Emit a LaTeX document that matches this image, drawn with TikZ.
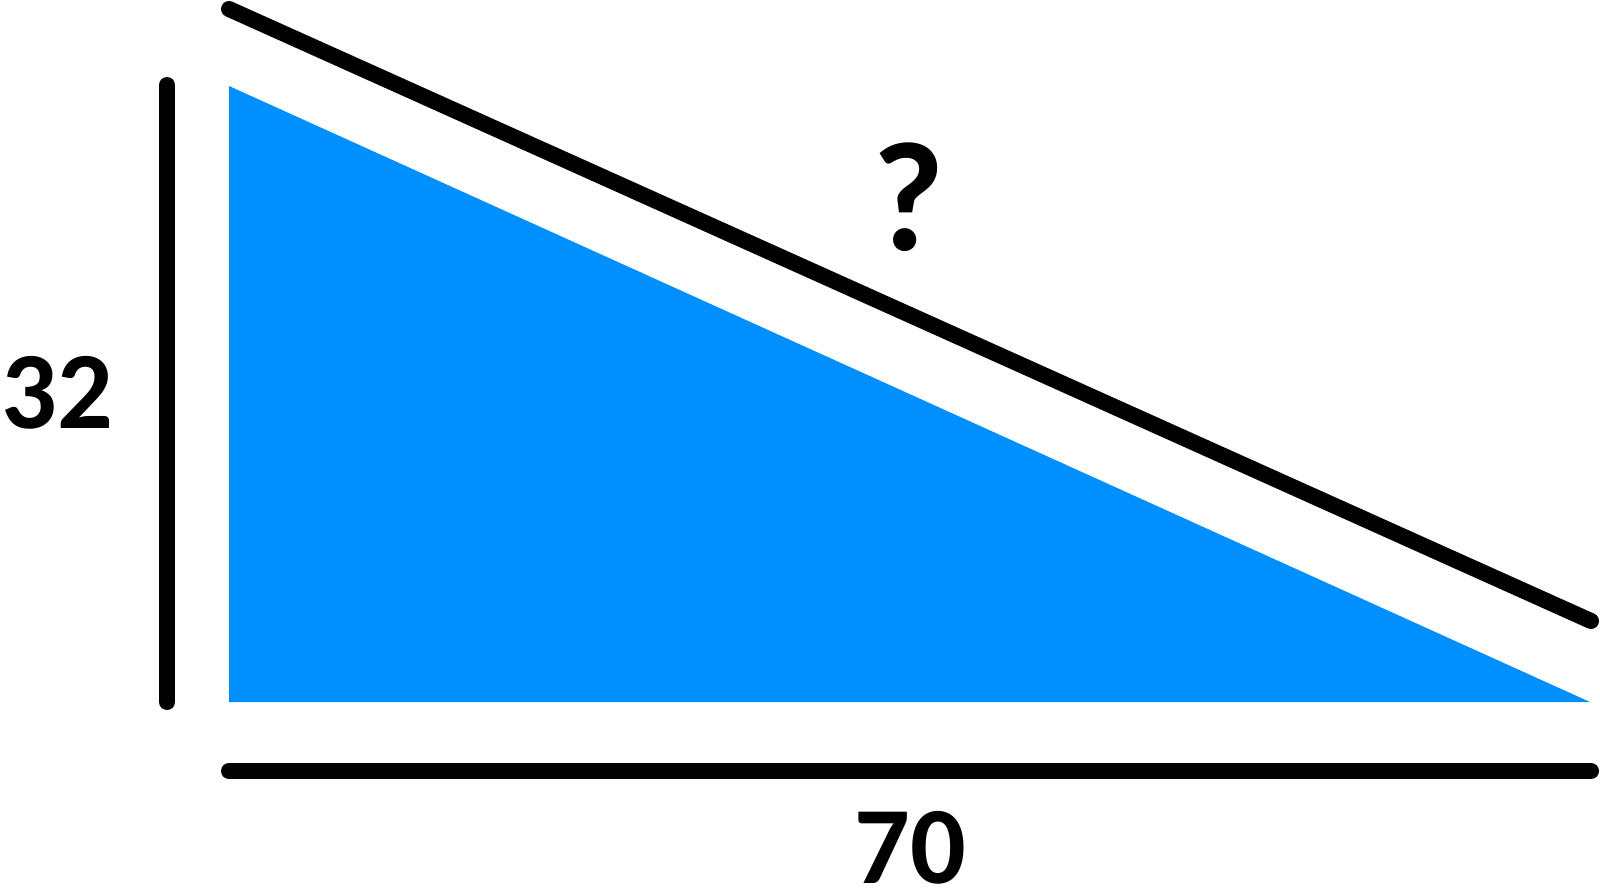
\documentclass[tikz,border=0pt]{standalone}
\usepackage{fontspec}
\setmainfont{Carlito}
\usepackage{tikz}
\usetikzlibrary{calc,positioning}
\definecolor{triblue}{RGB}{0,143,255}

\begin{document}
\begin{tikzpicture}[
    x=1pt, y=-1pt,
    nosep/.style={inner sep=0},
    dimline/.style={line width=16pt, line cap=round, black},
    sidelabel/.style={nosep, font=\fontsize{110}{110}\bfseries\selectfont},
    asklabel/.style={nosep, font=\fontsize{156}{156}\bfseries\selectfont}]
\useasboundingbox (0,0) rectangle (1600,891);

% triangle corners
\coordinate (TA) at (229,86);
\coordinate (TB) at (229,702);
\coordinate (TC) at (1590,702);
\path[fill=triblue] (TA) -- (TB) -- (TC) -- cycle;

% dimension lines
\coordinate (V1) at (167,85);
\coordinate (V2) at (167,702);
\coordinate (H1) at (229,771);
\coordinate (H2) at (1591,771);
\coordinate (S1) at (229,9);
\coordinate (S2) at (1591,621);
\path[draw, dimline] (V1) -- (V2);
\path[draw, dimline] (H1) -- (H2);
\path[draw, dimline] (S1) -- (S2);

% labels
\node (height) [sidelabel] at (57,393) {32};
\node (base)   [sidelabel] at (910,848) {70};
\node (hyp)    [asklabel]  at (909,197) {?};

\end{tikzpicture}
\end{document}
